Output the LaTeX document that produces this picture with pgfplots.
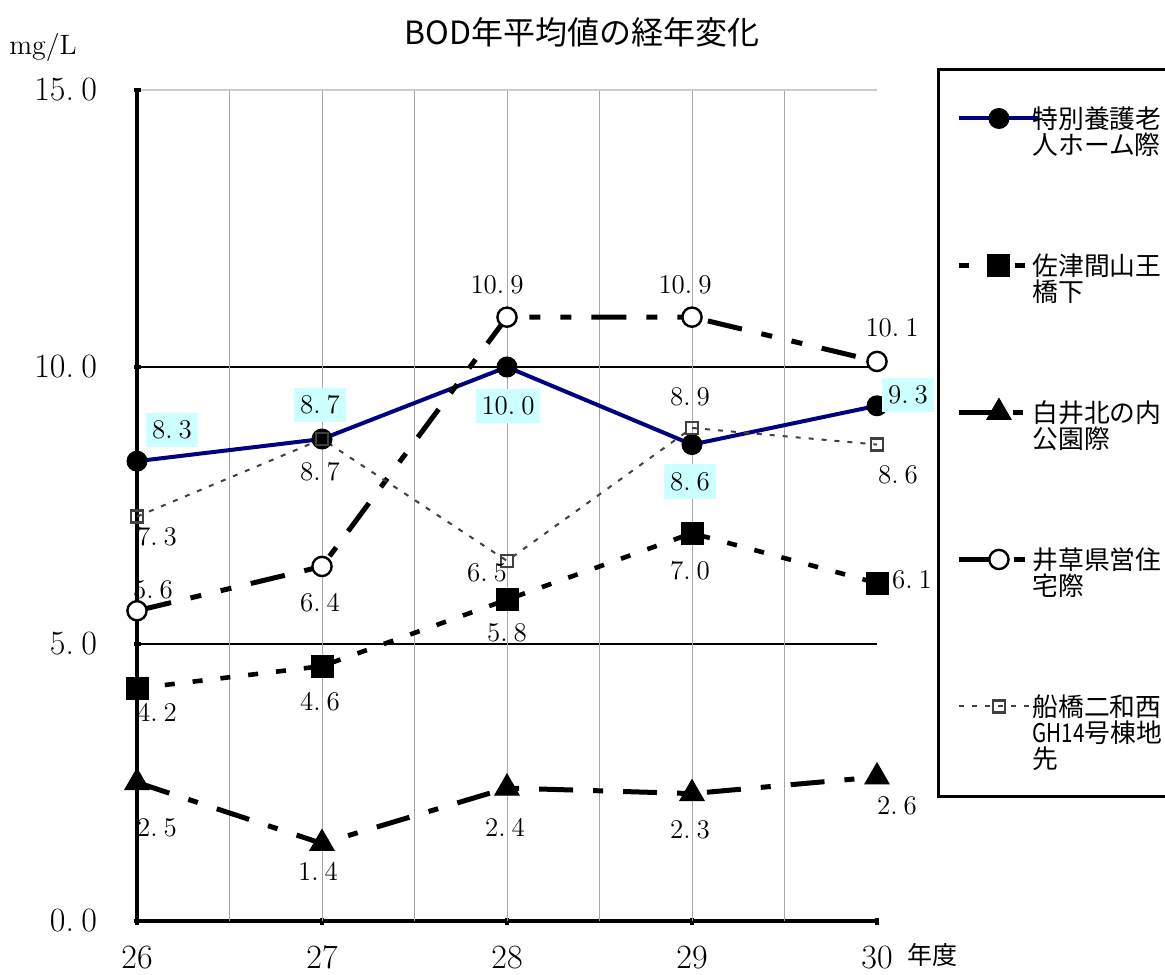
\documentclass[border=0pt]{standalone}
\usepackage{fontspec}
\usepackage{graphicx}
\usepackage{pgfplots}
\usepackage{pgfplotstable}
\pgfplotsset{compat=1.18}
\newfontfamily\jp{Noto Sans CJK JP}
\definecolor{navyc}{RGB}{0,0,128}
\definecolor{cyanbg}{RGB}{204,255,255}
\definecolor{dgray}{RGB}{64,64,64}

\pgfplotstableread{
x y dx dy
26 8.3 17.5 15.5
27 8.7 -1 17
28 10.0 0.5 -19.5
29 8.6 -1 -18.5
30 9.3 15.5 5.5
}\sA
\pgfplotstableread{
x y dx dy
26 4.2 10 -12
27 4.6 -1 -18
28 5.8 0 -16.5
29 7.0 -1 -18.5
30 6.1 17.5 1.5
}\sB
\pgfplotstableread{
x y dx dy
26 2.5 10 -22.5
27 1.4 -2 -14
28 2.4 -1 -19.5
29 2.3 -1 -18
30 2.6 10 -14.5
}\sC
\pgfplotstableread{
x y dx dy
26 5.6 8 10.5
27 6.4 -1 -18
28 10.9 -5 16
29 10.9 -3.5 16
30 10.1 7.5 17
}\sD
\pgfplotstableread{
x y dx dy
26 7.3 10 -10
27 8.7 -1 -16.5
28 6.5 -10 -6
29 8.9 -1 15.5
30 8.6 10.5 -15
}\sE

\newcommand{\legtext}[1]{\raisebox{44.5pt}[72pt][0pt]{\vtop{\fontsize{12.9}{13}\selectfont\jp #1}}}
\newcommand{\legtextlast}[1]{\raisebox{36.5pt}[64pt][0pt]{\vtop{\fontsize{12.9}{13}\selectfont\jp #1}}}
\newcommand{\dsep}{.\hspace{0.22em}}

\pgfplotsset{
  lbl/.style={
    nodes near coords={\pgfmathprintnumber[fixed,fixed zerofill,precision=1,set decimal separator={\dsep}]{\pgfplotspointmeta}},
    point meta=y,
    visualization depends on={\thisrow{dx}\as\dx},
    visualization depends on={\thisrow{dy}\as\dy},
    nodes near coords style={anchor=center, xshift=\dx pt, yshift=\dy pt,
      font=\fontsize{13.5}{13.5}\selectfont, text=black, solid},
  },
}

\begin{document}
\begin{tikzpicture}
\begin{axis}[
  at={(68.5pt,26.5pt)}, anchor=south west,
  scale only axis, width=370pt, height=415.5pt,
  xmin=26, xmax=30, ymin=0, ymax=15,
  clip=false,
  /pgf/number format/assume math mode=true,
  axis x line=bottom, axis y line=left,
  axis line style={-, line width=2.2pt, black},
  xtick={26,27,28,29,30}, xticklabels={26,27,28,29,30},
  ytick={0,5,10}, yticklabels={0\dsep0,5\dsep0,10\dsep0},
  extra y ticks={15}, extra y tick labels={15\dsep0},
  extra y tick style={grid=major, major grid style={gray!40, line width=1pt}},
  ymajorgrids, major grid style={black, line width=0.8pt},
  extra x ticks={26.5,27,27.5,28,28.5,29,29.5}, extra x tick labels={},
  extra x tick style={grid=major, major grid style={gray!70, line width=0.4pt}, major tick length=0pt},
  major tick length=3.5pt, tick style={black, line width=2pt},
  tick label style={font=\fontsize{17}{17}\selectfont},
  xticklabel style={anchor=center, yshift=-16.5pt, inner sep=0pt},
  yticklabel style={anchor=east, xshift=-18pt, inner sep=0pt},
  title={\jp BOD年平均値の経年変化},
  title style={at={(axis description cs:0.601,1)}, anchor=center, yshift=23pt, font=\fontsize{16}{16}\selectfont},
  ylabel={mg/L}, xlabel={\jp 年度},
  every axis y label/.style={at={(axis description cs:0,1)}, anchor=center, xshift=-47pt, yshift=21pt, font=\fontsize{14}{14}\selectfont},
  every axis x label/.style={at={(axis description cs:1,0)}, anchor=center, xshift=27.5pt, yshift=-17pt, font=\fontsize{12.5}{12.5}\selectfont},
  legend image code/.code={\draw[mark repeat=2,mark phase=2,#1] plot coordinates {(0pt,49.5pt) (20pt,49.5pt) (40pt,49.5pt)};},
  legend style={at={(axis description cs:1.081,1.0265)}, anchor=north west,
    draw=black, line width=1.5pt, fill=white,
    inner xsep=9pt, inner ysep=2pt, row sep=0pt, column sep=-4.5pt,
    cells={anchor=base west},
    nodes={inner xsep=0pt, inner ysep=0pt}},
]
\addplot[navyc, line width=2pt, mark=*, mark size=5pt,
  mark options={solid, fill=black, draw=black, line width=0.5pt},
  lbl, nodes near coords style={fill=cyanbg, inner xsep=3pt, inner ysep=4pt}]
  table[x=x,y=y] {\sA};
\addlegendentry{\legtext{\hbox{特別養護老}\hbox{人ホーム際}}}

\addplot[black, line width=2.3pt, dash pattern=on 5pt off 9pt, mark=square*, mark size=5.5pt,
  mark options={solid, fill=black, line width=0.5pt}, lbl]
  table[x=x,y=y] {\sB};
\addlegendentry{\legtext{\hbox{佐津間山王}\hbox{橋下}}}

\addplot[black, line width=2.5pt, dash pattern=on 17pt off 10pt on 5pt off 10pt, mark=triangle*, mark size=7pt,
  mark options={solid, fill=black, line width=0.5pt}, lbl]
  table[x=x,y=y] {\sC};
\addlegendentry{\legtext{\hbox{白井北の内}\hbox{公園際}}}

\addplot[black, line width=2.5pt, dash pattern=on 17.5pt off 10pt on 5.5pt off 10pt on 5.5pt off 10pt, mark=*, mark size=4.8pt,
  mark options={solid, fill=white, draw=black, line width=1.2pt}, lbl]
  table[x=x,y=y] {\sD};
\addlegendentry{\legtext{\hbox{井草県営住}\hbox{宅際}}}

\addplot[dgray, line width=1pt, dash pattern=on 2.5pt off 4pt, mark=square, mark size=3pt,
  mark options={solid, line width=1.3pt, draw=dgray}, lbl,
  legend image post style={yshift=-8pt}]
  table[x=x,y=y] {\sE};
\addlegendentry{\legtextlast{\hbox{船橋二和西}\hbox{\scalebox{0.8}[1]{GH14}号棟地}\hbox{先}}}
\end{axis}
\pgfresetboundingbox
\path (0,0) rectangle (582.5pt,487pt);
\end{tikzpicture}
\end{document}
